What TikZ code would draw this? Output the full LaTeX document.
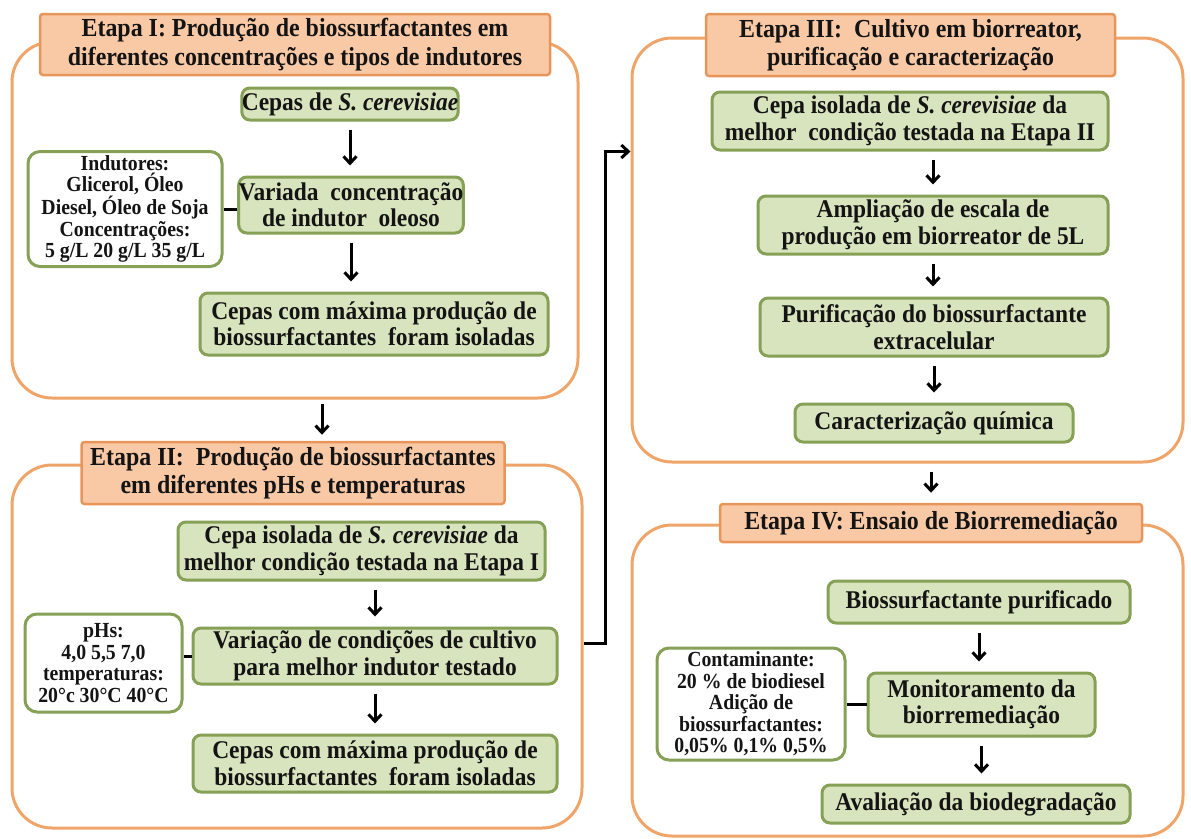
\documentclass[tikz,border=0pt]{standalone}
\usepackage{fontspec}
\setmainfont{Liberation Serif}[FakeStretch=0.92]
\usetikzlibrary{arrows.meta,calc}
\definecolor{orline}{HTML}{EFA56A}
\definecolor{hdrline}{HTML}{E8955A}
\definecolor{hdrfill}{HTML}{F9C9A6}
\definecolor{gline}{HTML}{86A055}
\definecolor{gfill}{HTML}{D7E4BD}
\definecolor{txt}{HTML}{141414}
\begin{document}
\begin{tikzpicture}[x=1pt,y=-1pt,
  outer/.style={draw=orline, line width=3pt, rounded corners=40pt, inner sep=0pt},
  hdr/.style={draw=hdrline, fill=hdrfill, line width=2.5pt, rounded corners=3pt, align=center, text=txt,
    font=\fontsize{26}{28.5}\selectfont\bfseries, inner sep=0pt},
  gbox/.style={draw=gline, fill=gfill, line width=3pt, rounded corners=8pt, align=center, text=txt,
    font=\fontsize{25.5}{26.5}\selectfont\bfseries, inner sep=0pt},
  wbox/.style={draw=gline, fill=white, line width=3pt, rounded corners=12pt, align=center, text=txt,
    font=\fontsize{21.5}{21.5}\selectfont\bfseries, inner sep=0pt},
  arr/.style={-{Straight Barb[length=7pt,width=13pt]}, line width=3pt, shorten <=8pt, shorten >=10pt},
  link/.style={line width=3pt}]
\useasboundingbox (0,0) rectangle (1191,838);

% outer frames
\node[outer, minimum width=566pt, minimum height=356pt] (E1) at (295,220) {};
\node[outer, minimum width=570pt, minimum height=363pt] (E2) at (297,646.5) {};
\node[outer, minimum width=551pt, minimum height=424pt] (E3) at (907.5,250) {};
\node[outer, minimum width=551pt, minimum height=311pt] (E4) at (907.5,680.5) {};

% headers
\node[hdr, minimum width=510pt, minimum height=61pt] (h1) at (295,44.5)
  {Etapa I: Produção de biossurfactantes em\\diferentes concentrações e tipos de indutores};
\node[hdr, minimum width=423pt, minimum height=62pt] (h2) at (293,473)
  {Etapa II:\ \ Produção de biossurfactantes\\em diferentes pHs e temperaturas};
\node[hdr, minimum width=409pt, minimum height=62pt] (h3) at (910.5,45)
  {Etapa III:\ \ Cultivo em biorreator,\\purificação e caracterização};
\node[hdr, minimum width=422pt, minimum height=38pt] (h4) at (931,523)
  {Etapa IV:\ Ensaio de Biorremediação};

% Etapa I
\node[gbox, minimum width=190pt, minimum height=32pt] (g1) at (350,104) {Cepas de \textit{S. cerevisiae}};
\node[gbox, minimum width=193pt, minimum height=56pt] (g2) at (351,205) {Variada\ \ concentração\\de indutor\ \ oleoso};
\node[gbox, minimum width=348pt, minimum height=62pt] (g3) at (374,324) {Cepas com máxima produção de\\biossurfactantes\ \ foram isoladas};
\node[wbox, minimum width=194pt, minimum height=115pt] (ind) at (125,209)
  {Indutores:\\Glicerol, Óleo\\Diesel, Óleo de Soja\\Concentrações:\\5 g/L 20 g/L 35 g/L};

% Etapa II
\node[gbox, minimum width=367pt, minimum height=58pt] (g4) at (361.5,551) {Cepa isolada de \textit{S. cerevisiae} da\\melhor condição testada na Etapa I};
\node[gbox, minimum width=364pt, minimum height=56pt] (g5) at (375,656) {Variação de condições de cultivo\\para melhor indutor testado};
\node[gbox, minimum width=364pt, minimum height=57pt] (g6) at (375,763.5) {Cepas com máxima produção de\\biossurfactantes\ \ foram isoladas};
\node[wbox, minimum width=157pt, minimum height=98pt] (ph) at (103.5,663)
  {pHs:\\4,0 5,5 7,0\\temperaturas:\\20°c 30°C 40°C};

% Etapa III
\node[gbox, minimum width=396pt, minimum height=58pt] (g7) at (910,121) {Cepa isolada de \textit{S. cerevisiae} da\\melhor\ \ condição testada na Etapa II};
\node[gbox, minimum width=350pt, minimum height=58pt] (g8) at (933,225) {Ampliação de escala de\\produção em biorreator de 5L};
\node[gbox, minimum width=348pt, minimum height=58pt] (g9) at (934,327) {Purificação do biossurfactante\\extracelular};
\node[gbox, minimum width=278pt, minimum height=38pt] (g10) at (934,423) {Caracterização química};

% Etapa IV
\node[gbox, minimum width=302pt, minimum height=42pt] (g11) at (979,602) {Biossurfactante purificado};
\node[gbox, minimum width=227pt, minimum height=63pt] (g12) at (981.5,704.5) {Monitoramento da\\biorremediação};
\node[gbox, minimum width=308pt, minimum height=38pt] (g13) at (976,804) {Avaliação da biodegradação};
\node[wbox, minimum width=188pt, minimum height=112pt] (cont) at (751,704)
  {Contaminante:\\20 \% de biodiesel\\Adição de\\biossurfactantes:\\0,05\% 0,1\% 0,5\%};

% arrows
\draw[arr] (g1.south) -- (g1.south |- g2.north);
\draw[arr] (g2.south) -- (g2.south |- g3.north);
\coordinate (p12) at (322,0);
\draw[arr, shorten <=4pt, shorten >=6pt] (E1.south -| p12) -- (h2.north -| p12);
\draw[arr] (g5.north |- g4.south) -- (g5.north);
\draw[arr] (g5.south) -- (g6.north);
\draw[arr] (g8.north |- g7.south) -- (g8.north);
\draw[arr] (g8.south) -- (g8.south |- g9.north);
\draw[arr] (g9.south) -- (g9.south |- g10.north);
\draw[arr] (h4.north |- E3.south) -- (h4.north);
\draw[arr] (g11.south) -- (g11.south |- g12.north);
\draw[arr] (g12.south) -- (g12.south |- g13.north);
\draw[line width=3pt, -{Straight Barb[length=7pt,width=13pt]}]
  (E2.east |- 0,643) -- (605,643) |- (E3.west |- g7.south);

% links
\draw[link] (ind.east) -- (ind.east -| g2.west);
\draw[link] (g5.west -| ph.east) -- (g5.west);
\draw[link] (cont.east) -- (cont.east -| g12.west);
\end{tikzpicture}
\end{document}
